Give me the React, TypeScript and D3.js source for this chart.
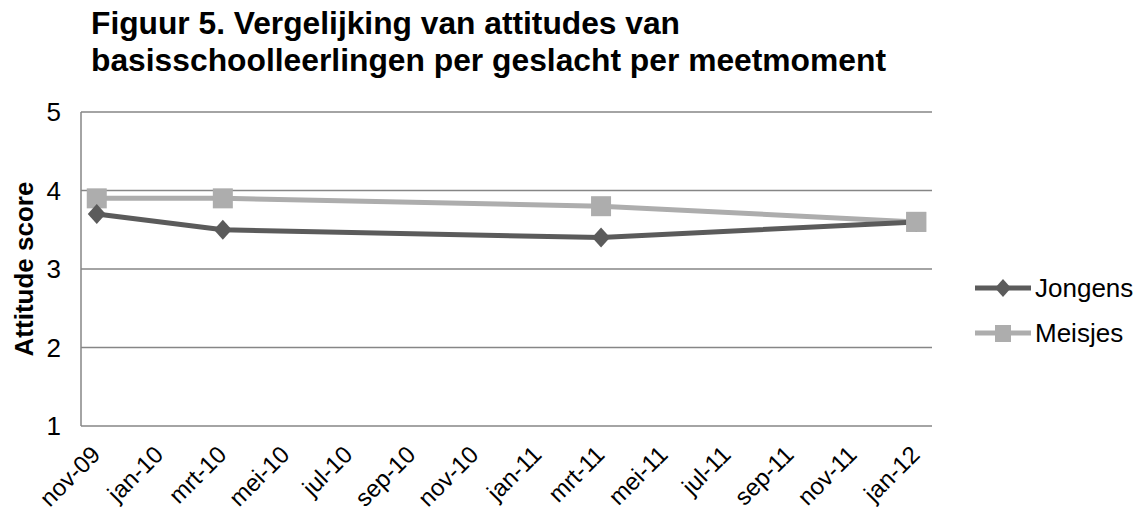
import React from "react"
import * as d3 from "d3"

// measurement moments and scores
const dates = ["2009-11-01", "2010-03-01", "2011-03-01", "2012-01-01"]
const jongens = [3.7, 3.5, 3.4, 3.6]
const meisjes = [3.9, 3.9, 3.8, 3.6]
const tickLabels = ["nov-09", "jan-10", "mrt-10", "mei-10", "jul-10", "sep-10", "nov-10",
    "jan-11", "mrt-11", "mei-11", "jul-11", "sep-11", "nov-11", "jan-12"]
const yTicks = [1, 2, 3, 4, 5]

const W = 1138
const H = 517
const left = 81, right = 932, top = 112, bottom = 426
const FONT = "'Liberation Sans', Arial, sans-serif"

const parse = d3.timeParse("%Y-%m-%d")
const start = parse(dates[0]) as Date
const monthIdx = (s: string) => d3.timeMonth.count(start, parse(s) as Date)
const nMonths = monthIdx(dates[dates.length - 1]) + 1

const x = d3.scaleLinear().domain([0, nMonths]).range([left, right])
const y = d3.scaleLinear().domain([1, 5]).range([bottom, top])

const GRID = "#868686"
const DARK = "#5b5b5b"
const LIGHT = "#adadad"

function App() {
    const line = d3.line<number>()
        .x((_, i) => x(monthIdx(dates[i]) + 0.5))
        .y(d => y(d))

    const diamond = (cx: number, cy: number, rx: number, ry: number) =>
        `M${cx},${cy - ry}L${cx + rx},${cy}L${cx},${cy + ry}L${cx - rx},${cy}Z`

    return (
        <div style={{ position: "absolute", left: 0, top: 0 }}>
            <svg width={W} height={H} style={{ display: "block", background: "#fff" }} fontFamily={FONT}>
                <text x={91} y={34} fontSize={31} fontWeight="bold" textLength={589} lengthAdjust="spacingAndGlyphs">
                    Figuur 5. Vergelijking van attitudes van</text>
                <text x={91} y={71} fontSize={31} fontWeight="bold" textLength={795} lengthAdjust="spacingAndGlyphs">
                    basisschoolleerlingen per geslacht per meetmoment</text>

                {yTicks.map(t => (
                    <g key={t}>
                        <line x1={left} x2={right} y1={y(t)} y2={y(t)} stroke={GRID} strokeWidth={1.5} />
                        <text x={61} y={y(t)} dy="0.36em" textAnchor="end" fontSize={26}>{t}</text>
                    </g>
                ))}
                <line x1={left} x2={left} y1={top} y2={bottom} stroke={GRID} strokeWidth={1.5} />

                {tickLabels.map((l, i) => {
                    const cx = x(i * 2 + 0.5)
                    return (
                        <text key={l} transform={`translate(${cx + 5},${bottom + 30}) rotate(-45)`}
                            textAnchor="end" fontSize={24}>{l}</text>
                    )
                })}

                <text transform={`translate(33,${(top + bottom) / 2}) rotate(-90)`} textAnchor="middle"
                    fontSize={26} fontWeight="bold">Attitude score</text>

                <path d={line(meisjes) as string} fill="none" stroke={LIGHT} strokeWidth={5} />
                <path d={line(jongens) as string} fill="none" stroke={DARK} strokeWidth={5} />
                {meisjes.map((v, i) => (
                    <rect key={"m" + i} x={x(monthIdx(dates[i]) + 0.5) - 10} y={y(v) - 10} width={20} height={20} fill={LIGHT} />
                ))}
                {jongens.map((v, i) => (
                    <path key={"j" + i} d={diamond(x(monthIdx(dates[i]) + 0.5), y(v), 9, 10)} fill={DARK} />
                ))}
                {/* last Meisjes marker sits on top in the reference */}
                <rect x={x(monthIdx(dates[3]) + 0.5) - 10} y={y(meisjes[3]) - 10} width={20} height={20} fill={LIGHT} />

                <g>
                    <line x1={975} x2={1031} y1={288} y2={288} stroke={DARK} strokeWidth={5} />
                    <path d={diamond(1003, 288, 8, 9)} fill={DARK} />
                    <text x={1035} y={288} dy="0.36em" fontSize={26}>Jongens</text>
                    <line x1={975} x2={1031} y1={333} y2={333} stroke={LIGHT} strokeWidth={5} />
                    <rect x={995} y={325} width={16} height={17} fill={LIGHT} />
                    <text x={1035} y={333} dy="0.36em" fontSize={26}>Meisjes</text>
                </g>
            </svg>
        </div>
    )
}

export default App
